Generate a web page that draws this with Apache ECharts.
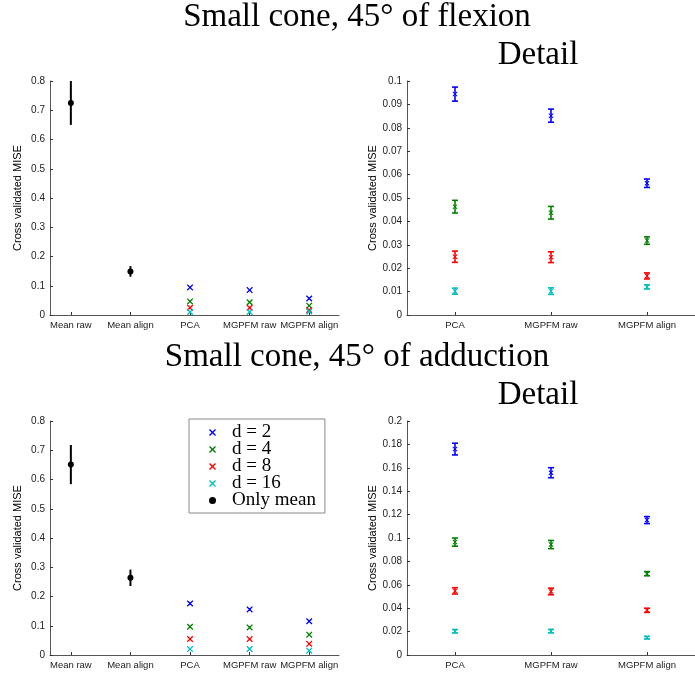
<!DOCTYPE html>
<html><head><meta charset="utf-8">
<script src="https://cdn.jsdelivr.net/npm/echarts@6/dist/echarts.min.js"></script>
<style>html,body{margin:0;padding:0;background:#fff}#c{width:695px;height:673px}</style>
</head><body><div id="c"></div>
<script>
// ---------- data ----------
const overviewCats = ['Mean raw', 'Mean align', 'PCA', 'MGPFM raw', 'MGPFM align'];
const detailCats = ['PCA', 'MGPFM raw', 'MGPFM align'];
const dNames = ['d = 2', 'd = 4', 'd = 8', 'd = 16'];
const meanName = 'Only mean';
const dColors = ['#0000ff', '#008000', '#ff0000', '#00bfbf'];

const titleFlexion = 'Small cone, 45° of flexion';
const titleAdduction = 'Small cone, 45° of adduction';
const titleDetail = 'Detail';
const yName = 'Cross validated MISE';

// flexion
const flexMean = [0.725, 0.149];
const flexMeanErr = [0.075, 0.018];
const flexD2 = [0.0944, 0.0852, 0.0563];
const flexD2Err = [0.0030, 0.0028, 0.0018];
const flexD4 = [0.0463, 0.0437, 0.0318];
const flexD4Err = [0.0027, 0.0027, 0.0016];
const flexD8 = [0.0249, 0.0247, 0.0167];
const flexD8Err = [0.0024, 0.0023, 0.0013];
const flexD16 = [0.0102, 0.0102, 0.0120];
const flexD16Err = [0.0013, 0.0014, 0.0009];

// adduction
const addMean = [0.651, 0.264];
const addMeanErr = [0.067, 0.028];
const addD2 = [0.1760, 0.1558, 0.1153];
const addD2Err = [0.0050, 0.0043, 0.0030];
const addD4 = [0.0965, 0.0944, 0.0695];
const addD4Err = [0.0035, 0.0035, 0.0018];
const addD8 = [0.0548, 0.0543, 0.0382];
const addD8Err = [0.0027, 0.0028, 0.0018];
const addD16 = [0.0203, 0.0204, 0.0148];
const addD16Err = [0.0015, 0.0015, 0.0011];

// y axis ranges
const yMaxOverview = 0.8, yStepOverview = 0.1;
const yMaxFlexDetail = 0.1, yStepFlexDetail = 0.01;
const yMaxAddDetail = 0.2, yStepAddDetail = 0.02;

// ---------- chart ----------
const SANS = 'Liberation Sans, Arial, Helvetica, sans-serif';
const SERIF = 'Liberation Serif, Times New Roman, serif';
const X_PATH = 'path://M0,1.4L1.4,0L5,3.6L8.6,0L10,1.4L6.4,5L10,8.6L8.6,10L5,6.4L1.4,10L0,8.6L3.6,5Z';

const grids = [
  {left: 50, top: 81, width: 289, height: 234},
  {left: 407, top: 81, width: 297, height: 234},
  {left: 50, top: 421, width: 289, height: 234},
  {left: 407, top: 421, width: 297, height: 234}
];

function xAxisFor(gi, cats, min, max) {
  const vals = cats.map((c, i) => i + 1);
  return {
    type: 'value', gridIndex: gi, min: min, max: max,
    splitLine: {show: false},
    axisLine: {show: true, lineStyle: {color: '#555', width: 1}},
    axisTick: {show: true, inside: true, length: 3, customValues: vals, lineStyle: {color: '#333'}},
    axisLabel: {show: true, customValues: vals, margin: 5, color: '#222', fontFamily: SANS, fontSize: 9.5,
      formatter: v => cats[Math.round(v) - 1] || ''}
  };
}
function yAxisFor(gi, max, step, gap) {
  return {
    type: 'value', gridIndex: gi, min: 0, max: max, interval: step,
    splitLine: {show: false},
    axisLine: {show: true, lineStyle: {color: '#555', width: 1}},
    axisTick: {show: true, inside: true, length: 3, lineStyle: {color: '#333'}},
    axisLabel: {margin: 5, color: '#222', fontFamily: SANS, fontSize: 10},
    name: yName, nameLocation: 'middle', nameRotate: 90, nameGap: gap,
    nameTextStyle: {color: '#000', fontFamily: SANS, fontSize: 11}
  };
}

function errRender(capW, lw) {
  return function (params, api) {
    const x = api.value(0), y = api.value(1), e = api.value(2);
    const top = api.coord([x, y + e]);
    const bot = api.coord([x, y - e]);
    const color = api.visual('color');
    const style = {stroke: color, lineWidth: lw, fill: null};
    const children = [{type: 'line', shape: {x1: top[0], y1: top[1], x2: bot[0], y2: bot[1]}, style: style}];
    if (capW > 0) {
      children.push({type: 'line', shape: {x1: top[0] - capW / 2, y1: top[1], x2: top[0] + capW / 2, y2: top[1]}, style: style});
      children.push({type: 'line', shape: {x1: bot[0] - capW / 2, y1: bot[1], x2: bot[0] + capW / 2, y2: bot[1]}, style: style});
    }
    return {type: 'group', children: children};
  };
}

const series = [];
function addGroup(gi, xs, vals, errs, name, color, symbol, size, capW, lw) {
  series.push({
    type: 'custom', name: name + ' err' + gi, xAxisIndex: gi, yAxisIndex: gi,
    renderItem: errRender(capW, lw), itemStyle: {color: color}, clip: false, z: 2,
    data: xs.map((x, i) => [x, vals[i], errs[i]]), silent: true
  });
  series.push({
    type: 'scatter', name: name, xAxisIndex: gi, yAxisIndex: gi,
    symbol: symbol, symbolSize: size, itemStyle: {color: color, opacity: 1}, z: 3,
    data: xs.map((x, i) => [x, vals[i]]), silent: true
  });
}

const flexD = [flexD2, flexD4, flexD8, flexD16];
const flexDErr = [flexD2Err, flexD4Err, flexD8Err, flexD16Err];
const addD = [addD2, addD4, addD8, addD16];
const addDErr = [addD2Err, addD4Err, addD8Err, addD16Err];

// bottom-left first so legend takes its symbols
addGroup(2, [1, 2], addMean, addMeanErr, meanName, '#000', 'circle', 6, 0, 2);
for (let k = 0; k < 4; k++) addGroup(2, [3, 4, 5], addD[k], addDErr[k], dNames[k], dColors[k], X_PATH, 6.5, 0, 1.2);
addGroup(0, [1, 2], flexMean, flexMeanErr, meanName, '#000', 'circle', 6, 0, 2);
for (let k = 0; k < 4; k++) addGroup(0, [3, 4, 5], flexD[k], flexDErr[k], dNames[k], dColors[k], X_PATH, 6.5, 0, 1.2);
for (let k = 0; k < 4; k++) addGroup(1, [1, 2, 3], flexD[k], flexDErr[k], dNames[k], dColors[k], X_PATH, 5, 6, 1.6);
for (let k = 0; k < 4; k++) addGroup(3, [1, 2, 3], addD[k], addDErr[k], dNames[k], dColors[k], X_PATH, 5, 6, 1.6);

function titleText(text, x, y) {
  return {type: 'text', x: x, y: y, silent: true,
    style: {text: text, font: '33px ' + SERIF, fill: '#000', align: 'center', verticalAlign: 'middle'}};
}

const option = {
  backgroundColor: '#fff',
  animation: false,
  grid: grids,
  xAxis: [
    xAxisFor(0, overviewCats, 0.65, 5.5),
    xAxisFor(1, detailCats, 0.5, 3.5),
    xAxisFor(2, overviewCats, 0.65, 5.5),
    xAxisFor(3, detailCats, 0.5, 3.5)
  ],
  yAxis: [
    yAxisFor(0, yMaxOverview, yStepOverview, 27),
    yAxisFor(1, yMaxFlexDetail, yStepFlexDetail, 24),
    yAxisFor(2, yMaxOverview, yStepOverview, 27),
    yAxisFor(3, yMaxAddDetail, yStepAddDetail, 24)
  ],
  legend: {
    data: dNames.concat([meanName]),
    orient: 'vertical', left: 189, top: 419,
    itemWidth: 7, itemHeight: 7, itemGap: -2,
    padding: [4, 9, 3, 20],
    backgroundColor: '#fff', borderColor: '#888', borderWidth: 1,
    selectedMode: false,
    textStyle: {fontFamily: SERIF, fontSize: 19, color: '#000', lineHeight: 17, padding: [0, 0, 0, 11]}
  },
  graphic: [
    titleText(titleFlexion, 357, 17),
    titleText(titleDetail, 538, 55),
    titleText(titleAdduction, 357, 357),
    titleText(titleDetail, 538, 395)
  ],
  series: series
};

const chart = echarts.init(document.getElementById('c'), null, {renderer: 'canvas'});
chart.setOption(option);
</script></body></html>
